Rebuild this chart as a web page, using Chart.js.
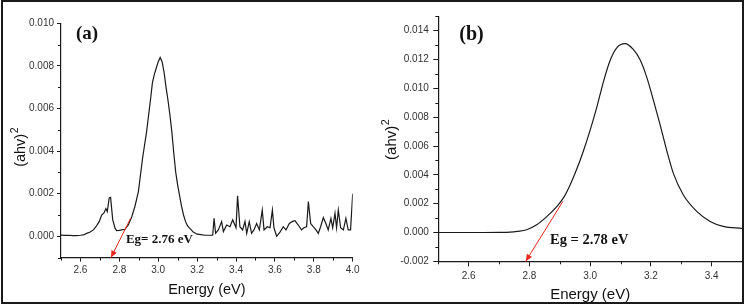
<!DOCTYPE html>
<html><head><meta charset="utf-8">
<script src="https://cdn.jsdelivr.net/npm/chart.js@4.4.1/dist/chart.umd.min.js"></script>
<style>
html,body{margin:0;padding:0;background:#fff;}
#wrap{position:relative;width:747px;height:307px;overflow:hidden;background:#fff;}
canvas{position:absolute;top:0;}
#ca{left:0;}
#cb{left:370px;}
#frame{position:absolute;left:1px;top:0;width:739px;height:300px;border:2px solid #1a1a1a;pointer-events:none;}
</style></head>
<body>
<div id="wrap">
<canvas id="ca" width="370" height="307"></canvas>
<canvas id="cb" width="377" height="307"></canvas>
<div id="frame"></div>
</div>
<script>
// ---------- Panel (a) data ----------
const energyA = [2.50,2.52,2.54,2.56,2.58,2.60,2.62,2.632,2.65,2.666,2.68,2.697,2.709,2.721,2.731,2.738,2.748,2.755,2.766,2.778,2.786,2.80,2.812,2.829,2.846,2.864,2.88,2.898,2.92,2.94,2.96,2.97,2.98,2.99,3.00,3.01,3.02,3.03,3.04,3.05,3.06,3.07,3.08,3.09,3.10,3.11,3.12,3.13,3.14,3.15,3.16,3.17,3.18,3.20,3.22,3.24,3.26,3.28,
3.287,3.295,3.309,3.326,3.335,3.352,3.369,3.383,3.391,3.400,3.408,3.420,3.434,3.446,3.455,3.468,3.480,3.492,3.506,3.520,3.535,3.544,3.561,3.575,3.587,3.595,3.609,3.626,3.643,3.657,3.674,3.691,3.703,3.720,3.737,3.749,3.763,3.772,3.784,3.797,3.811,3.823,3.835,3.849,3.862,3.874,3.888,3.897,3.909,3.917,3.926,3.938,3.952,3.965,3.977,3.989,4.00];
const ahvA = [0.00006,0.00004,0.00005,0.00003,0.00003,0.00005,0.00008,0.00014,0.0002,0.0003,0.00045,0.0007,0.001,0.0011,0.0013,0.00116,0.0018,0.00183,0.00077,0.00038,0.00027,0.00028,0.0003,0.00033,0.00053,0.00092,0.0014,0.0021,0.0037,0.0049,0.0064,0.0072,0.0076,0.0079,0.0082,0.0084,0.0082,0.0077,0.0070,0.0064,0.0057,0.0049,0.0039,0.0030,0.0024,0.0019,0.0014,0.0010,0.0007,0.0005,0.0004,0.0003,0.0002,0.0001,0.00008,0.00005,0.00005,0.00005,
0.00084,0.00014,0.0003,0.00069,0.00022,0.00053,0.00045,0.00077,0.0006,0.0004,0.0019,0.00045,0.0003,0.0007,0.00014,0.00069,0.00014,0.0003,0.0006,0.0003,0.00123,0.0003,0.00045,0.0004,0.00123,0.0004,0.0,0.0002,0.00045,0.0003,0.0006,0.0007,0.00073,0.00053,0.0003,0.0004,0.00045,0.00163,0.0006,0.00045,0.0003,0.00014,0.00045,0.00088,0.0006,0.0003,0.00084,0.0004,0.00108,0.0004,0.00123,0.0004,0.0003,0.00084,0.0003,0.0003,0.002];
const xTicksA = [2.6,2.8,3.0,3.2,3.4,3.6,3.8,4.0];
const xMinorA = [2.5,2.7,2.9,3.1,3.3,3.5,3.7,3.9];
const yTicksA = [0,0.002,0.004,0.006,0.008,0.010];
const yMinorA = [-0.001,0.001,0.003,0.005,0.007,0.009];
const arrowA = [[2.858,0.00085],[2.757,-0.001]];
const labelA = '(a)';
const egA = 'Eg= 2.76 eV';

// ---------- Panel (b) data ----------
const energyB = [2.50,2.55,2.60,2.65,2.70,2.736,2.76,2.791,2.824,2.857,2.89,2.912,2.934,2.956,2.977,3.00,3.022,3.043,3.065,3.087,3.115,3.142,3.164,3.186,3.208,3.23,3.252,3.274,3.307,3.351,3.395,3.438,3.50];
const ahvB = [0,0,0,0,0.00001,0.00003,0.00008,0.00019,0.00053,0.0011,0.0018,0.0024,0.0033,0.0044,0.0056,0.0071,0.0087,0.0104,0.0119,0.0128,0.0131,0.0127,0.0120,0.0108,0.0092,0.0075,0.0057,0.0041,0.0026,0.00146,0.00076,0.00042,0.00028];
const xTicksB = [2.6,2.8,3.0,3.2,3.4];
const xMinorB = [2.5,2.7,2.9,3.1,3.3,3.5];
const yTicksB = [-0.002,0,0.002,0.004,0.006,0.008,0.010,0.012,0.014];
const yMinorB = [-0.001,0.001,0.003,0.005,0.007,0.009,0.011,0.013,0.015];
const arrowB = [[2.910,0.00215],[2.788,-0.002]];
const labelB = '(b)';
const egB = 'Eg = 2.78 eV';

const yTitle = '(ahv)';
const yTitleSup = '2';
const xTitle = 'Energy (eV)';

const SANS = '"Liberation Sans", Arial, sans-serif';
const SERIF = '"Liberation Serif", "Times New Roman", serif';
const INK = '#1a1a1a';

const minorTicks = {
  id: 'minorTicks',
  afterDraw(chart, args, o) {
    const ctx = chart.ctx, xs = chart.scales.x, ys = chart.scales.y;
    ctx.save();
    ctx.strokeStyle = INK; ctx.lineWidth = 1;
    o.x.forEach(v => {
      const p = Math.round(xs.getPixelForValue(v)) + 0.5;
      ctx.beginPath(); ctx.moveTo(p, xs.top); ctx.lineTo(p, xs.top + o.len); ctx.stroke();
    });
    o.y.forEach(v => {
      const p = Math.round(ys.getPixelForValue(v)) + 0.5;
      ctx.beginPath(); ctx.moveTo(ys.right - o.len, p); ctx.lineTo(ys.right, p); ctx.stroke();
    });
    // y-axis title with superscript
    const t = o.ytitle;
    const ca = chart.chartArea;
    const cy = (ca.top + ca.bottom) / 2 + t.dy;
    ctx.translate(ys.left + t.cx, cy);
    ctx.rotate(-Math.PI / 2);
    ctx.fillStyle = '#111';
    ctx.textBaseline = 'alphabetic'; ctx.textAlign = 'left';
    ctx.font = t.size + 'px ' + SANS;
    const w1 = ctx.measureText(t.text).width;
    ctx.font = t.supSize + 'px ' + SANS;
    const w2 = ctx.measureText(t.sup).width;
    const x0 = -(w1 + w2) / 2, base = t.size * 0.35;
    ctx.font = t.size + 'px ' + SANS;
    ctx.fillText(t.text, x0, base);
    ctx.font = t.supSize + 'px ' + SANS;
    ctx.fillText(t.sup, x0 + w1 + 0.5, base - t.size * 0.42);
    ctx.restore();
  }
};

const annot = {
  id: 'annot',
  afterDatasetsDraw(chart, args, o) {
    const ctx = chart.ctx, xs = chart.scales.x, ys = chart.scales.y;
    ctx.save();
    const x1 = xs.getPixelForValue(o.arrow[0][0]), y1 = ys.getPixelForValue(o.arrow[0][1]);
    const x2 = xs.getPixelForValue(o.arrow[1][0]), y2 = ys.getPixelForValue(o.arrow[1][1]);
    ctx.strokeStyle = '#e8281e'; ctx.fillStyle = '#e8281e'; ctx.lineWidth = 1;
    ctx.beginPath(); ctx.moveTo(x1, y1); ctx.lineTo(x2, y2); ctx.stroke();
    const ang = Math.atan2(y2 - y1, x2 - x1), L = 7, W = 3;
    const bx = x2 - L * Math.cos(ang), by = y2 - L * Math.sin(ang);
    ctx.beginPath();
    ctx.moveTo(x2, y2);
    ctx.lineTo(bx + W * Math.sin(ang), by - W * Math.cos(ang));
    ctx.lineTo(bx - W * Math.sin(ang), by + W * Math.cos(ang));
    ctx.closePath(); ctx.fill();
    ctx.fillStyle = '#111'; ctx.textAlign = 'left'; ctx.textBaseline = 'middle';
    o.texts.forEach(t => {
      ctx.font = t.font;
      ctx.fillText(t.text, xs.getPixelForValue(t.x), ys.getPixelForValue(t.y));
    });
    ctx.restore();
  }
};

function makeChart(id, cfg) {
  const pts = cfg.xs.map((x, i) => ({x: x, y: cfg.ys[i]}));
  return new Chart(document.getElementById(id), {
    type: 'scatter',
    data: {datasets: [{data: pts, showLine: true, borderColor: INK, borderWidth: 1.2,
      pointRadius: 0, tension: cfg.smooth ? 0.4 : 0, cubicInterpolationMode: cfg.smooth ? 'monotone' : 'default', fill: false}]},
    options: {
      responsive: false, animation: false, events: [],
      layout: {padding: cfg.pad},
      plugins: {
        legend: {display: false}, tooltip: {enabled: false},
        minorTicks: {x: cfg.xMinor, y: cfg.yMinor, len: 3,
          ytitle: {text: yTitle, sup: yTitleSup, size: cfg.tf, supSize: cfg.tf * 0.72, cx: cfg.ycx, dy: cfg.ydy}},
        annot: {arrow: cfg.arrow, texts: cfg.texts}
      },
      scales: {
        x: {
          type: 'linear', min: cfg.xr[0], max: cfg.xr[1], bounds: 'data',
          afterBuildTicks: s => { s.ticks = cfg.xTicks.map(v => ({value: v})); },
          afterFit: s => { s.height = cfg.xh; },
          grid: {drawOnChartArea: false, drawTicks: true, tickLength: cfg.tl, tickColor: INK, color: INK},
          border: {display: true, color: INK, width: 1.2},
          ticks: {font: {family: SANS, size: 10}, color: '#333', padding: cfg.xpad, maxRotation: 0, autoSkip: false,
            callback: v => Number(v).toFixed(1)},
          title: {display: true, text: xTitle, color: '#111', font: {family: SANS, size: cfg.tf}, padding: {top: 0, bottom: cfg.xtb}}
        },
        y: {
          type: 'linear', min: cfg.yr[0], max: cfg.yr[1], bounds: 'data',
          afterBuildTicks: s => { s.ticks = cfg.yTicks.map(v => ({value: v})); },
          afterFit: s => { s.width = cfg.yw; },
          grid: {drawOnChartArea: false, drawTicks: true, tickLength: cfg.tl, tickColor: INK, color: INK},
          border: {display: true, color: INK, width: 1.2},
          ticks: {font: {family: SANS, size: 10}, color: '#333', padding: cfg.ypad, autoSkip: false,
            callback: v => Number(v).toFixed(3)},
          title: {display: false}
        }
      }
    },
    plugins: [minorTicks, annot]
  });
}

makeChart('ca', {
  xs: energyA, ys: ahvA, smooth: false,
  xr: [2.5, 4.0], yr: [-0.001, 0.010],
  xTicks: xTicksA, yTicks: yTicksA, xMinor: xMinorA, yMinor: yMinorA,
  pad: {left: 0, top: 23.3, right: 17.3, bottom: 0},
  xh: 49.4, yw: 61, tl: 4, xpad: 3, ypad: 3, tf: 14.5, xtb: 8, ycx: 19.5, ydy: 7,
  arrow: arrowA,
  texts: [
    {text: labelA, x: 2.577, y: 0.00947, font: 'bold 19px ' + SERIF},
    {text: egA, x: 2.834, y: -0.00017, font: 'bold 13px ' + SERIF}
  ]
});

makeChart('cb', {
  xs: energyB, ys: ahvB, smooth: true,
  xr: [2.5, 3.5], yr: [-0.002, 0.015],
  xTicks: xTicksB, yTicks: yTicksB, xMinor: xMinorB, yMinor: yMinorB,
  pad: {left: 0, top: 16.3, right: 5, bottom: 0},
  xh: 45.7, yw: 68.3, tl: 5, xpad: 3.5, ypad: 4.5, tf: 15, xtb: 3.5, ycx: 20.5, ydy: 1,
  arrow: arrowB,
  texts: [
    {text: labelB, x: 2.569, y: 0.01371, font: 'bold 20px ' + SERIF},
    {text: egB, x: 2.868, y: -0.00051, font: 'bold 14.5px ' + SERIF}
  ]
});
</script>
</body></html>
